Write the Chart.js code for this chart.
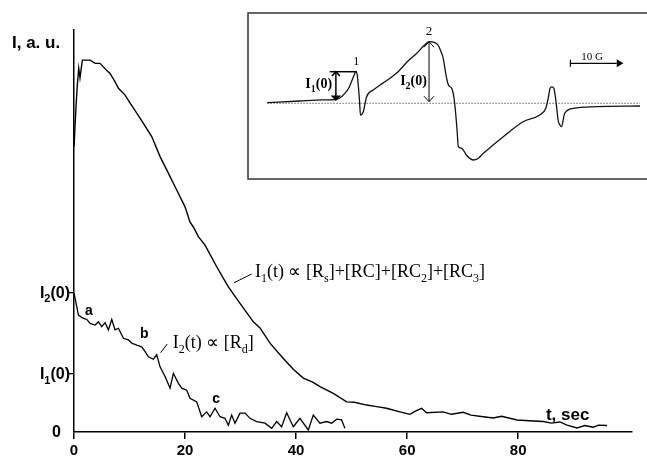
<!DOCTYPE html>
<html>
<head>
<meta charset="utf-8">
<script src="https://cdn.jsdelivr.net/npm/chart.js@4.4.1/dist/chart.umd.min.js"></script>
<style>
  html, body { margin: 0; padding: 0; background: #fff; }
  #wrap { position: relative; width: 647px; height: 459px; }
  #mainBox { position: absolute; left: 0; top: 0; width: 647px; height: 459px; }
  #insetBox { position: absolute; left: 247px; top: 12px; width: 400px; height: 168px; background: #fff; }
</style>
</head>
<body>
<div id="wrap">
  <div id="mainBox"><canvas id="main"></canvas></div>
  <div id="insetBox"><canvas id="inset"></canvas></div>
</div>
<script>
// Kinetics: t (sec) and intensity (a.u.)
const i1Time = [0, 0.36, 0.6, 0.85, 1.08, 1.5, 2.9, 3.8, 4.7, 5.9, 6.5, 7.4, 8.0, 9.2, 10.2, 11.3, 12.5, 14.0, 15.5, 16.7, 18.5, 20.0, 20.9, 21.5, 22.4, 23.6, 25.7, 27.8, 29.9, 32.3, 33.5, 35.3, 37.7, 39.5, 41.3, 43.0, 44.3, 46.7, 49.1, 50.5, 52.7, 54.5, 56.3, 58.7, 60.5, 61.5, 62.6, 63.5, 66.5, 68.0, 70.1, 71.5, 73.7, 75.5, 77.0, 79.8, 82.0, 84.5, 86.0, 87.5, 88.8, 90.6, 92.0, 93.5, 94.5, 96.0];
const i1Signal = [70.9, 80.9, 86.3, 90.5, 88.1, 92.5, 92.5, 91.7, 91.7, 89.9, 89.2, 87.1, 85.5, 83.8, 81.6, 79.3, 76.8, 73.5, 68.5, 65.2, 60.2, 56.0, 52.2, 51.0, 48.6, 46.5, 41.1, 36.1, 32.0, 27.4, 25.9, 22.1, 18.3, 15.6, 13.4, 12.4, 11.3, 9.6, 7.5, 7.4, 6.7, 6.3, 5.9, 5.0, 4.4, 5.2, 5.9, 4.8, 5.0, 4.4, 4.9, 4.2, 3.8, 3.5, 3.9, 3.0, 2.8, 2.6, 2.2, 2.5, 1.7, 1.0, 1.6, 1.2, 1.7, 1.6];

const i2Time = [0, 0.8, 1.6, 2.3, 2.9, 3.8, 4.4, 5.0, 5.6, 6.2, 6.8, 7.4, 8.0, 8.9, 9.8, 10.4, 11.3, 12.2, 12.8, 13.4, 14.3, 14.9, 15.5, 16.4, 17.3, 17.9, 18.8, 19.4, 20.3, 20.9, 22.1, 23.0, 23.9, 24.5, 25.4, 26.3, 27.2, 27.8, 28.4, 29.0, 29.9, 30.8, 31.7, 32.9, 34.4, 35.6, 36.5, 37.4, 38.3, 39.5, 40.7, 42.2, 43.1, 44.3, 45.5, 46.4, 47.3, 48.2, 48.8];
const i2Signal = [34.6, 29.1, 28.3, 28.0, 27.0, 26.6, 27.4, 26.2, 27.2, 25.4, 28.0, 25.4, 25.8, 23.3, 22.9, 22.1, 21.6, 21.2, 20.0, 18.7, 18.1, 19.2, 16.2, 13.8, 10.9, 14.6, 12.1, 10.9, 10.4, 8.4, 7.5, 3.8, 5.0, 3.8, 5.9, 3.8, 3.4, 1.7, 4.2, 2.2, 4.7, 4.7, 3.4, 2.6, 2.2, 0.9, 2.6, 1.3, 4.8, 1.3, 3.4, 0.5, 4.2, 2.2, 2.6, 2.2, 3.2, 3.0, 0.9];

const xTicks = [0, 20, 40, 60, 80];
const yTickValues = [0, 14.4, 34.6];
const yTickLabels = ['0', 'I_1(0)', 'I_2(0)'];

// Inset EPR spectrum: field (G) and signal (a.u.)
const specField = [4.3, 11.2, 16.0, 18.96, 20.0, 20.7, 21.5, 22.1, 22.6, 23.0, 23.3, 23.5, 23.8, 24.0, 24.3, 24.6, 25.3, 26.7, 29.0, 31.6, 34.0, 35.9, 37.4, 38.5, 39.6, 40.4, 41.0, 41.5, 42.1, 42.6, 43.3, 43.7, 44.0, 44.4, 44.7, 45.4, 46.4, 47.1, 47.8, 48.8, 50.0, 54.2, 58.4, 61.9, 63.2, 63.7, 64.1, 64.5, 64.9, 65.4, 65.8, 66.2, 66.5, 67.2, 69.0, 73.9, 83.1];
const specSignal = [0.6, 2.3, 3.4, 4.0, 6.5, 10.0, 15.0, 21.6, 27.5, 31.6, 29.0, 20.0, 2.0, -11.7, -11.0, -8.4, 6.6, 13.3, 21.0, 30.0, 42.0, 50.0, 57.5, 61.6, 61.0, 58.3, 52.0, 45.0, 28.0, 18.3, 15.0, 8.0, -3.4, -25.0, -43.4, -45.0, -51.7, -55.0, -56.7, -55.5, -50.0, -33.4, -18.4, -11.7, -5.0, 5.0, 15.0, 16.5, 15.0, 0.0, -16.7, -22.0, -23.4, -10.0, -5.0, -3.4, -2.7];
const baseField = [4.3, 83.1];
const baseSignal = [0, 0];

const SANS = '"Liberation Sans", Arial, sans-serif';
const SERIF = '"Liberation Serif", "Times New Roman", serif';

function toPoints(xs, ys) {
  return xs.map((x, i) => ({ x: x, y: ys[i] }));
}

// draws a string where "_c" makes the single char c a subscript
function drawRich(ctx, str, x, y, size, family, weight, align) {
  const parts = [];
  for (let i = 0; i < str.length; i++) {
    if (str[i] === '_' && i + 1 < str.length) {
      parts.push([str[i + 1], true]);
      i++;
    } else if (parts.length && !parts[parts.length - 1][1]) {
      parts[parts.length - 1][0] += str[i];
    } else {
      parts.push([str[i], false]);
    }
  }
  const big = weight + ' ' + size + 'px ' + family;
  const small = weight + ' ' + Math.round(size * 0.68) + 'px ' + family;
  let w = 0;
  parts.forEach(p => { ctx.font = p[1] ? small : big; w += ctx.measureText(p[0]).width; });
  let cx = align === 'right' ? x - w : (align === 'center' ? x - w / 2 : x);
  ctx.textAlign = 'left';
  ctx.textBaseline = 'alphabetic';
  parts.forEach(p => {
    ctx.font = p[1] ? small : big;
    ctx.fillText(p[0], cx, p[1] ? y + size * 0.28 : y);
    cx += ctx.measureText(p[0]).width;
  });
}

function line(ctx, x1, y1, x2, y2) {
  ctx.beginPath();
  ctx.moveTo(x1, y1);
  ctx.lineTo(x2, y2);
  ctx.stroke();
}

// arrow head at (x,y); dir is +1 pointing up, -1 pointing down
function chevron(ctx, x, y, dir, size, filled) {
  ctx.beginPath();
  ctx.moveTo(x - size, y + dir * size * 1.1);
  ctx.lineTo(x, y);
  ctx.lineTo(x + size, y + dir * size * 1.1);
  if (filled) { ctx.closePath(); ctx.fill(); }
  ctx.stroke();
}

// labels, leader lines and axis names of the main plot
const mainDecor = {
  id: 'mainDecor',
  afterDraw(chart) {
    const ctx = chart.ctx;
    const sx = chart.scales.x, sy = chart.scales.y;
    const X = v => sx.getPixelForValue(v), Y = v => sy.getPixelForValue(v);
    ctx.save();
    ctx.fillStyle = '#000';
    ctx.strokeStyle = '#000';

    // y tick labels with subscripts
    yTickValues.forEach((v, i) => {
      const right = v === 0 ? 61 : 70;
      drawRich(ctx, yTickLabels[i], right, Y(v) + 5, 16, SANS, 'bold', 'right');
    });

    drawRich(ctx, 'I, a. u.', 12, 48, 17, SANS, 'bold', 'left');
    drawRich(ctx, 't, sec', X(85), Y(3.0), 17, SANS, 'bold', 'left');

    // curve labels
    ctx.lineWidth = 1;
    line(ctx, X(28.8), Y(37.1), X(32.0), Y(39.3));
    drawRich(ctx, 'I_1(t) \u221D [R_s]+[RC]+[RC_2]+[RC_3]', X(32.6), Y(38.6), 18, SERIF, 'normal', 'left');
    line(ctx, X(15.6), Y(19.7), X(16.8), Y(21.9));
    drawRich(ctx, 'I_2(t) \u221D [R_d]', X(17.8), Y(20.9), 18, SERIF, 'normal', 'left');

    drawRich(ctx, 'a', X(2.0), Y(29.1), 14, SANS, 'bold', 'left');
    drawRich(ctx, 'b', X(11.9), Y(23.4), 14, SANS, 'bold', 'left');
    drawRich(ctx, 'c', X(24.9), Y(7.2), 14, SANS, 'bold', 'left');
    ctx.restore();
  }
};

new Chart(document.getElementById('main'), {
  type: 'scatter',
  data: {
    datasets: [
      { data: toPoints(i1Time, i1Signal), showLine: true, borderColor: '#000', borderWidth: 1.4, pointRadius: 0, tension: 0 },
      { data: toPoints(i2Time, i2Signal), showLine: true, borderColor: '#000', borderWidth: 1.3, pointRadius: 0, tension: 0 }
    ]
  },
  options: {
    responsive: true,
    maintainAspectRatio: false,
    animation: false,
    layout: { padding: { top: 30, right: 15, left: 0, bottom: 0 } },
    plugins: { legend: { display: false }, tooltip: { enabled: false } },
    scales: {
      x: {
        type: 'linear',
        min: 0,
        max: 100.5,
        afterBuildTicks: scale => { scale.ticks = xTicks.map(v => ({ value: v })); },
        afterFit: scale => { scale.height = 27; },
        border: { display: true, color: '#000', width: 1.5 },
        grid: { drawOnChartArea: false, drawTicks: true, tickLength: 7, color: '#000', lineWidth: 1.5 },
        ticks: { color: '#000', padding: 3, maxRotation: 0, font: { family: SANS, size: 15, weight: 'bold' } }
      },
      y: {
        type: 'linear',
        min: 0,
        max: 100,
        afterBuildTicks: scale => { scale.ticks = yTickValues.map(v => ({ value: v })); },
        afterFit: scale => { scale.width = 74; },
        border: { display: true, color: '#000', width: 1.5 },
        grid: {
          drawOnChartArea: false, drawTicks: true, tickLength: 5, lineWidth: 1.3,
          color: c => (c.tick && c.tick.value === 0) ? 'rgba(0,0,0,0)' : '#000'
        },
        ticks: { display: false }
      }
    }
  },
  plugins: [mainDecor]
});

// frame, arrows and labels of the inset spectrum
const insetDecor = {
  id: 'insetDecor',
  afterDraw(chart) {
    const ctx = chart.ctx;
    const sx = chart.scales.x, sy = chart.scales.y;
    const X = v => sx.getPixelForValue(v), Y = v => sy.getPixelForValue(v);
    ctx.save();
    ctx.strokeStyle = '#333';
    ctx.lineWidth = 1.5;
    ctx.beginPath();
    ctx.moveTo(chart.width, 1);
    ctx.lineTo(1, 1);
    ctx.lineTo(1, chart.height - 1);
    ctx.lineTo(chart.width, chart.height - 1);
    ctx.stroke();

    ctx.strokeStyle = '#000';
    ctx.fillStyle = '#000';

    // I1(0) marker
    ctx.lineWidth = 1.5;
    line(ctx, X(18.8), Y(3.3), X(18.8), Y(31.6));
    line(ctx, X(17.5), Y(31.6), X(23.2), Y(31.6));
    chevron(ctx, X(18.8), Y(31.6), 1, 4, false);
    chevron(ctx, X(18.8), Y(3.3), -1, 3.5, true);
    drawRich(ctx, 'I_1(0)', X(18.0), Y(15.3), 14, SERIF, 'bold', 'right');
    drawRich(ctx, '1', X(23.1), Y(38.3), 12, SERIF, 'normal', 'center');

    // I2(0) marker
    ctx.lineWidth = 1;
    line(ctx, X(38.5), Y(1.6), X(38.5), Y(61.6));
    chevron(ctx, X(38.5), Y(61.6), 1, 5, false);
    chevron(ctx, X(38.5), Y(1.6), -1, 5, false);
    drawRich(ctx, 'I_2(0)', X(38.05), Y(18.3), 14, SERIF, 'bold', 'right');
    drawRich(ctx, '2', X(38.5), Y(68.3), 13, SERIF, 'normal', 'center');

    // 10 G scale bar
    ctx.lineWidth = 1.2;
    line(ctx, X(68.4), Y(40), X(78.2), Y(40));
    line(ctx, X(68.4), Y(40) - 3.5, X(68.4), Y(40) + 3.5);
    ctx.beginPath();
    ctx.moveTo(X(79.6), Y(40));
    ctx.lineTo(X(78.2), Y(40) - 4);
    ctx.lineTo(X(78.2), Y(40) + 4);
    ctx.closePath();
    ctx.fill();
    drawRich(ctx, '10 G', X(73.0), Y(43.3), 11, SERIF, 'normal', 'center');
    ctx.restore();
  }
};

new Chart(document.getElementById('inset'), {
  type: 'scatter',
  data: {
    datasets: [
      { data: toPoints(specField, specSignal), showLine: true, borderColor: '#111', borderWidth: 1.3, pointRadius: 0, cubicInterpolationMode: 'monotone' },
      { data: toPoints(baseField, baseSignal), showLine: true, borderColor: '#666', borderWidth: 1, borderDash: [1.5, 1.5], pointRadius: 0 }
    ]
  },
  options: {
    responsive: true,
    maintainAspectRatio: false,
    animation: false,
    layout: { padding: 0 },
    plugins: { legend: { display: false }, tooltip: { enabled: false } },
    scales: {
      x: { type: 'linear', display: false, min: 0, max: 84.6 },
      y: { type: 'linear', display: false, min: -76.7, max: 91.3 }
    }
  },
  plugins: [insetDecor]
});
</script>
</body>
</html>
